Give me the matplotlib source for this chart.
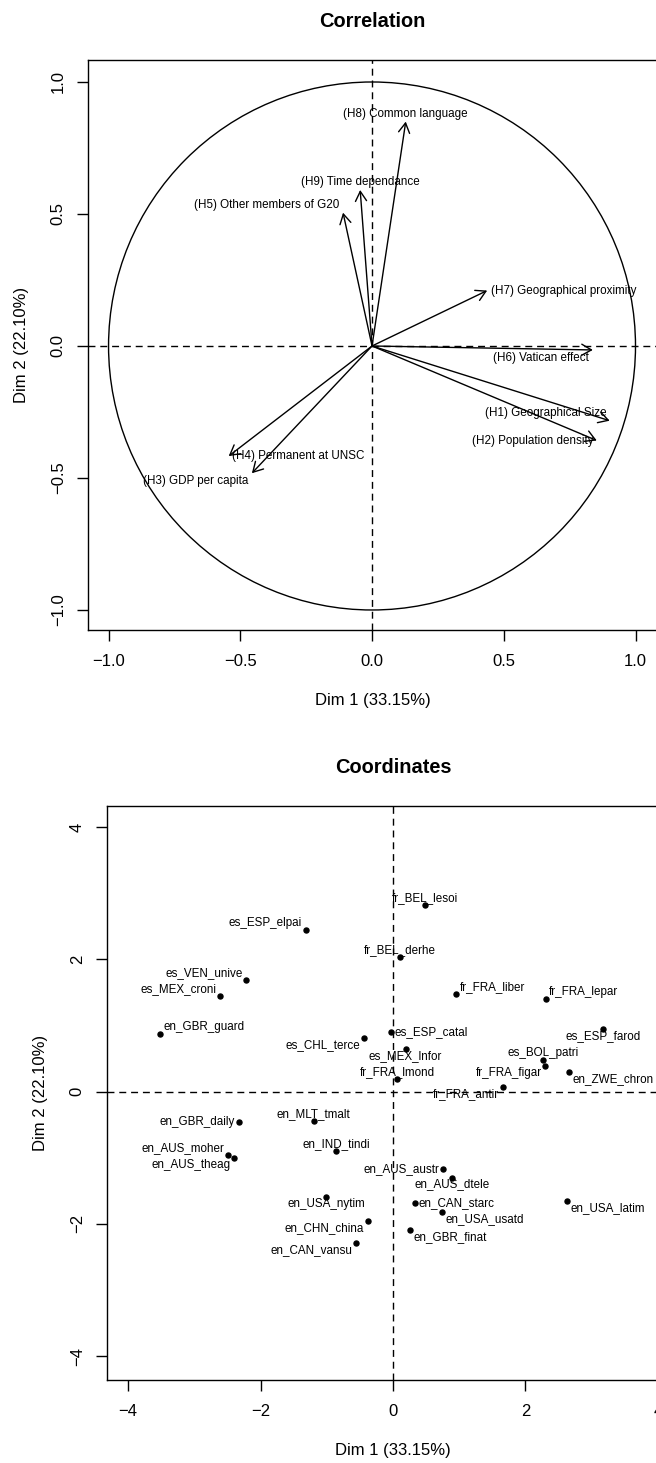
import matplotlib
matplotlib.use("Agg")
import matplotlib.pyplot as plt
from matplotlib.patches import Circle

plt.rcParams['font.family'] = ['Liberation Sans', 'DejaVu Sans']

# ---------------- data ----------------
var_labels = ["(H1) Geographical Size", "(H2) Population density", "(H3) GDP per capita",
              "(H4) Permanent at UNSC", "(H5) Other members of G20", "(H6) Vatican effect",
              "(H7) Geographical proximity", "(H8) Common language", "(H9) Time dependance"]
var_dim1 = [0.902, 0.853, -0.456, -0.544, -0.110, 0.838, 0.437, 0.128, -0.045]
var_dim2 = [-0.283, -0.358, -0.482, -0.417, 0.505, -0.015, 0.210, 0.850, 0.591]

ind_labels = ["fr_BEL_lesoi", "es_ESP_elpai", "fr_BEL_derhe", "es_VEN_unive", "es_MEX_croni",
              "fr_FRA_liber", "fr_FRA_lepar", "en_GBR_guard", "es_CHL_terce", "es_ESP_catal",
              "es_ESP_farod", "es_MEX_lnfor", "es_BOL_patri", "fr_FRA_figar", "en_ZWE_chron",
              "fr_FRA_lmond", "fr_FRA_antir", "en_GBR_daily", "en_MLT_tmalt", "en_AUS_moher",
              "en_AUS_theag", "en_IND_tindi", "en_AUS_austr", "en_AUS_dtele", "en_USA_nytim",
              "en_CAN_starc", "en_USA_latim", "en_USA_usatd", "en_CHN_china", "en_GBR_finat",
              "en_CAN_vansu"]
ind_dim1 = [0.48, -1.32, 0.10, -2.22, -2.62, 0.955, 2.305, -3.52, -0.435, -0.03,
            3.17, 0.19, 2.27, 2.30, 2.66, 0.066, 1.66, -2.33, -1.20, -2.49,
            -2.40, -0.855, 0.748, 0.894, -1.007, 0.338, 2.63, 0.736, -0.38, 0.257,
            -0.555]
ind_dim2 = [2.83, 2.45, 2.03, 1.69, 1.45, 1.48, 1.40, 0.876, 0.806, 0.897,
            0.94, 0.64, 0.478, 0.383, 0.297, 0.19, 0.065, -0.465, -0.45, -0.964,
            -1.0, -0.90, -1.166, -1.30, -1.60, -1.69, -1.65, -1.82, -1.96, -2.10,
            -2.29]

xlab = "Dim 1 (33.15%)"
ylab = "Dim 2 (22.10%)"
cor_ticks = [-1.0, -0.5, 0.0, 0.5, 1.0]
ind_ticks = [-4, -2, 0, 2, 4]

# ---------------- layout (label placement codes) ----------------
var_place = ["LA", "LM", "LB", "RM", "LA", "LB", "RM", "CA", "CA"]
ind_place = ["CA", "LA", "CA", "LA", "LA", "RA", "RA", "RA", "LB", "RM",
             "CB", "CB", "CA", "LB", "RB", "CA", "LB", "LM", "CA", "LA",
             "LB", "CA", "LM", "CB", "CB", "RM", "RB", "RB", "LB", "RB",
             "LB"]

W, H = 656, 1463
fig = plt.figure(figsize=(W / 100, H / 100), dpi=100)

LABEL_FS = 8.4
TICK_FS = 12
TITLE_FS = 14.4
DASH = (0, (5, 3.5))


def fmt(v, nd):
    s = ("%." + str(nd) + "f") % v
    return s.replace("-", "\u2212")


def place(ax, x, y, text, code, gx=2.5, gy=5.2):
    h, v = code
    dx = {'L': -gx, 'R': gx, 'C': 0}[h]
    ha = {'L': 'right', 'R': 'left', 'C': 'center'}[h]
    dy = {'A': gy, 'B': -gy, 'M': 0}[v]
    ax.annotate(text, (x, y), xytext=(dx, dy), textcoords='offset points',
                ha=ha, va='center', fontsize=LABEL_FS, color='black')


def style_axes(ax, ticks, title, nd):
    ax.set_xticks(ticks)
    ax.set_yticks(ticks)
    ax.set_xticklabels([fmt(t, nd) for t in ticks])
    ax.set_yticklabels([fmt(t, nd) for t in ticks], rotation=90, va='center')
    for s in ax.spines.values():
        s.set_linewidth(1.0)
    ax.tick_params(direction='out', length=8, width=1.0, labelsize=TICK_FS, pad=9.5)
    ax.tick_params(axis='y', pad=8)
    ax.set_xlabel(xlab, fontsize=TICK_FS, labelpad=17)
    ax.set_ylabel(ylab, fontsize=TICK_FS, labelpad=16)
    ax.set_title(title, fontsize=TITLE_FS, fontweight='bold', pad=23.5)
    ax.axhline(0, color='black', lw=1.0, linestyle=DASH)
    ax.axvline(0, color='black', lw=1.0, linestyle=DASH)


# ---------------- top: correlation circle ----------------
ax1 = fig.add_axes([88 / W, 1 - 630 / H, 569 / W, 570 / H])
ax1.set_xlim(-1.078, 1.0816)
ax1.set_ylim(-1.0758, 1.0833)
ax1.add_patch(Circle((0, 0), 1.0, fill=False, color='black', lw=1.0))
for lab, x, y, code in zip(var_labels, var_dim1, var_dim2, var_place):
    ax1.annotate("", xy=(x, y), xytext=(0, 0),
                 arrowprops=dict(arrowstyle="->,head_length=0.7,head_width=0.4",
                                 mutation_scale=10, lw=1.0, color='black',
                                 shrinkA=0, shrinkB=0))
    place(ax1, x, y, lab, code, gx=2.5, gy=5.5)
style_axes(ax1, cor_ticks, "Correlation", 1)

# ---------------- bottom: individuals ----------------
ax2 = fig.add_axes([107 / W, 1 - 1380 / H, 572 / W, 574 / H])
ax2.set_xlim(-4.32, 4.32)
ax2.set_ylim(-4.363, 4.321)
ax2.plot(ind_dim1, ind_dim2, 'o', color='black', ms=3.6, mec='black')
for lab, x, y, code in zip(ind_labels, ind_dim1, ind_dim2, ind_place):
    place(ax2, x, y, lab, code, gx=2.5, gy=5.0)
style_axes(ax2, ind_ticks, "Coordinates", 0)

fig.savefig("out.png", dpi=100)
